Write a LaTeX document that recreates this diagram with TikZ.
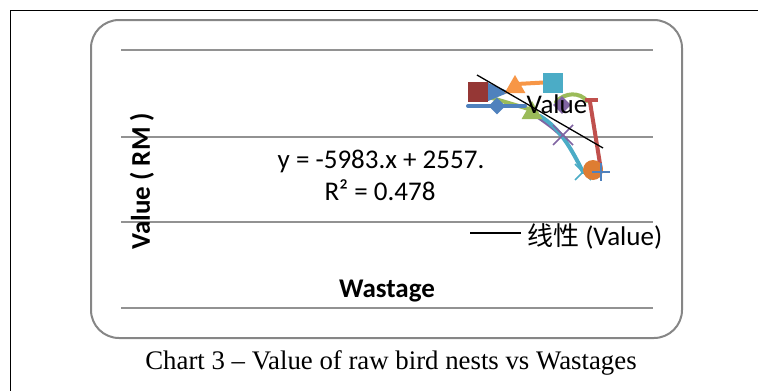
\documentclass[tikz,border=0pt]{standalone}
\usepackage{fontspec}
\setmainfont{Liberation Serif}
\newfontfamily\chartfont{Carlito}
\newfontfamily\cjkfont{Noto Sans CJK SC}
\usetikzlibrary{shapes.geometric}
\definecolor{sblue}{RGB}{79,129,189}
\definecolor{sred}{RGB}{192,80,77}
\definecolor{sdred}{RGB}{149,55,53}
\definecolor{sgreen}{RGB}{155,187,89}
\definecolor{spurple}{RGB}{128,100,162}
\definecolor{steal}{RGB}{75,172,198}
\definecolor{sorange}{RGB}{247,150,70}
\definecolor{scircle}{RGB}{222,125,50}
\definecolor{frame}{RGB}{134,134,134}
\tikzset{
  grid line/.style={draw=frame!90, line width=1.2pt},
  chart text/.style={font=\chartfont\fontsize{27}{30}\selectfont, inner sep=0pt, anchor=base},
  bold text/.style={chart text, font=\chartfont\bfseries\fontsize{27}{30}\selectfont},
  series/.style={line width=4pt, line cap=round, line join=round},
  sqmark/.style={rectangle, minimum size=20pt, inner sep=0pt},
}
\begin{document}
\begin{tikzpicture}[x=1pt,y=-1pt]
\useasboundingbox (0,0) rectangle (758,391);
% outer frame
\draw[line width=1.6pt] (10.5,391) -- (10.5,10.5) -- (758,10.5);
% chart area
\draw[draw=frame, line width=2pt, rounded corners=28pt] (91,20) rectangle (682,338);
% gridlines
\foreach \yy in {50,137,222,308} \draw[grid line] (121,\yy) -- (653,\yy);
% axis titles
\node[bold text, rotate=90, anchor=center] (ylab) at (142,181) {Value ( RM )};
\node[bold text] (xlab) at (387,297) {Wastage};
% equation
\node[chart text] (eq1) at (381,168) {y = -5983.x + 2557.};
\node[chart text] (eq2) at (380,200) {R² = 0.478};
% series
\draw[series, sgreen] (492,98) -- (532,110);
\draw[series, sgreen] (556,102) .. controls (565,92) and (580,92) .. (587,101);
\draw[series, sblue] (468,106) -- (525,106);
\draw[series, spurple] (534,114) .. controls (545,122) and (555,128) .. (566,140);
\draw[series, steal] (540,116) .. controls (560,128) and (572,150) .. (583,172);
\draw[series, sred] (590,102) -- (601,170);
\draw[series, sorange] (553,82) -- (517,84);
% markers
\node[sqmark, fill=sdred] (m1) at (478,92) {};
\node[isosceles triangle, fill=sblue, minimum width=18pt, minimum height=10pt, inner sep=0pt, anchor=west] (m2) at (488,92) {};
\node[diamond, fill=sblue, minimum size=17pt, inner sep=0pt] (m3) at (497,106) {};
\node[regular polygon, regular polygon sides=3, fill=sorange, minimum size=24pt, inner sep=0pt] (m4) at (515,87) {};
\node[sqmark, fill=steal] (m5) at (553,83) {};
\node[regular polygon, regular polygon sides=3, fill=sgreen, minimum size=24pt, inner sep=0pt] (m6) at (532,113) {};
\node[diamond, fill=spurple, minimum size=18pt, inner sep=0pt] (m7) at (562,105) {};
\draw[sred, line width=4pt] (585,100) -- (598,100);
\draw[spurple, line width=1.6pt] (553,125) -- (573,145) (553,145) -- (573,125);
\draw[steal, line width=1.6pt] (575,164) -- (591,180) (575,180) -- (591,164);
\node[circle, fill=scircle, minimum size=20pt, inner sep=0pt] (m8) at (593,170) {};
\draw[sblue, line width=1.6pt] (592,172) -- (610,172) (601,163) -- (601,181);
% trend line
\coordinate (t1) at (477,75);
\coordinate (t2) at (603,148);
\draw[line width=1.3pt] (t1) -- (t2);
\node[chart text] (vlab) at (557,113) {Value};
% legend
\coordinate (l1) at (470,233);
\coordinate (l2) at (521,233);
\draw[line width=1.3pt] (l1) -- (l2);
\node[chart text, anchor=base west] (leg) at (527,245) {{\cjkfont\fontsize{26}{30}\selectfont 线性} (Value)};
% caption
\node[font=\fontsize{26.8}{30}\selectfont, inner sep=0pt, anchor=base] (cap) at (391,369) {Chart 3 -- Value of raw bird nests vs Wastages};
\end{tikzpicture}
\end{document}
